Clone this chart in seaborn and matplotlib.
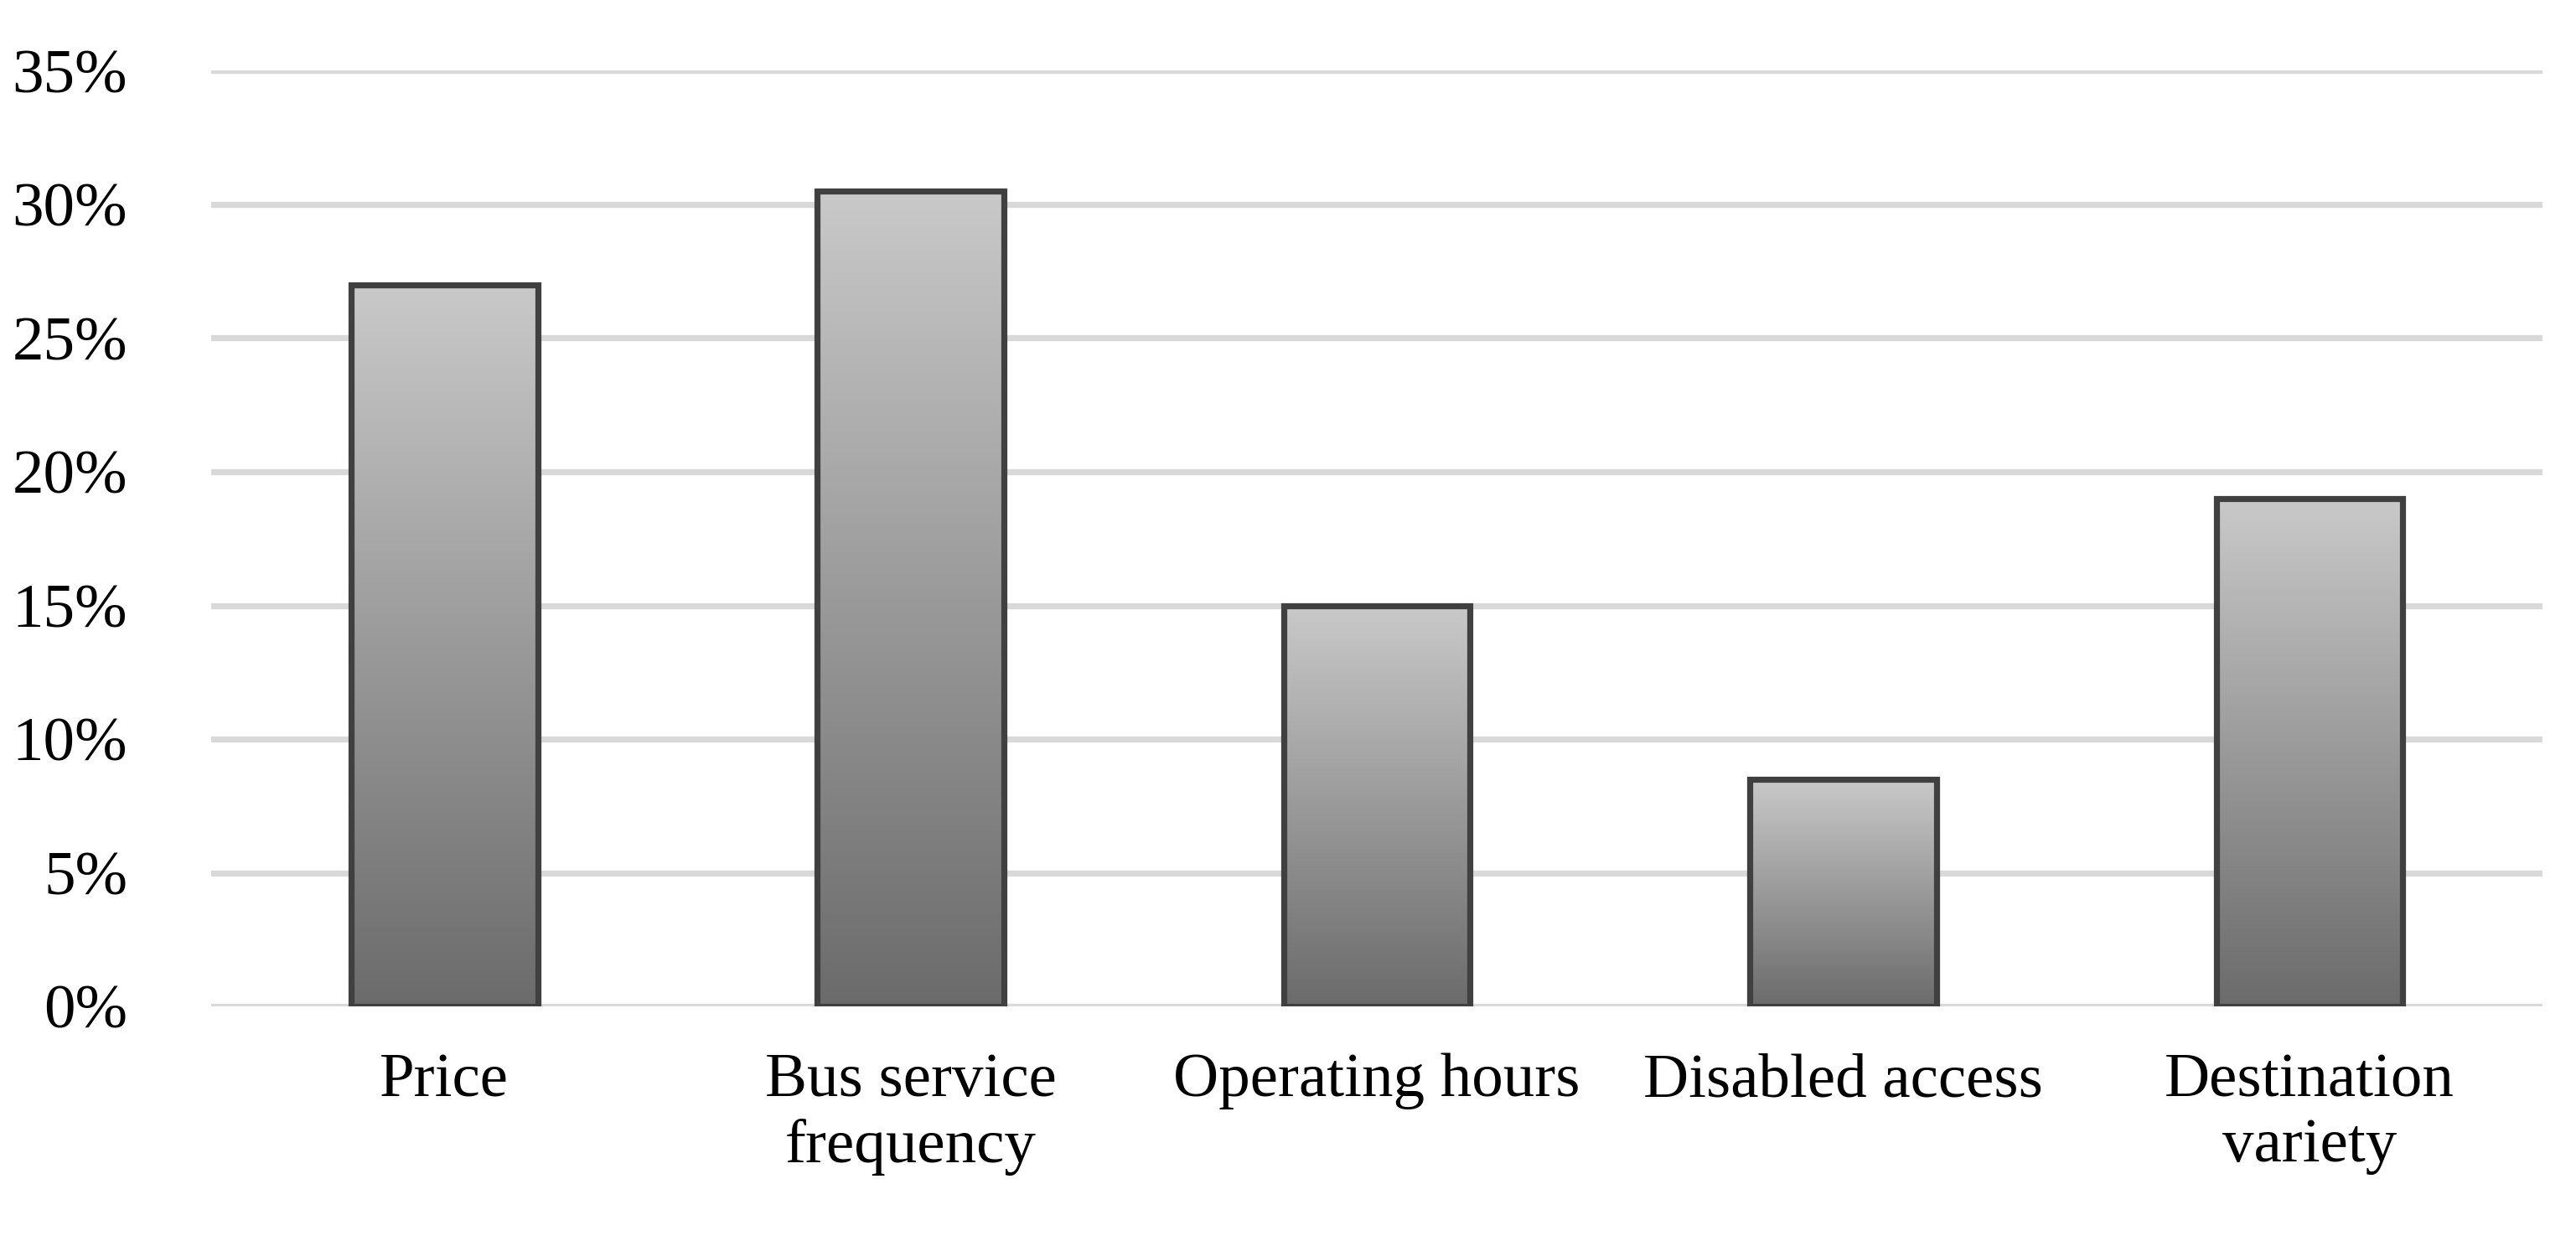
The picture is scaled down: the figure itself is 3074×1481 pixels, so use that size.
import numpy as np
import pandas as pd
import matplotlib
matplotlib.use("Agg")
import matplotlib.pyplot as plt
import seaborn as sns
from matplotlib.colors import LinearSegmentedColormap
from matplotlib.ticker import PercentFormatter

categories = ["Price", "Bus service\nfrequency", "Operating hours", "Disabled access", "Destination\nvariety"]
shares = [27.0, 30.5, 15.0, 8.5, 19.0]
y_ticks = [0, 5, 10, 15, 20, 25, 30, 35]

sns.set_style("white")
plt.rcParams['font.family'] = ['Liberation Serif', 'DejaVu Serif']

df = pd.DataFrame({"factor": categories, "share": shares})

fig = plt.figure(figsize=(15.37, 7.405), dpi=200)
ax = fig.add_axes([0.082, 0.189, 0.905, 0.754])

sns.barplot(data=df, x="factor", y="share", ax=ax, width=0.4,
            color="white", edgecolor="#404040", linewidth=2.6, zorder=3)

# gradient fill inside each bar, light at top and dark at bottom
grad = LinearSegmentedColormap.from_list("g", ["#6b6b6b", "#c9c9c9"])
for bar in ax.patches:
    bar.set_facecolor("none")
    x0, w, h = bar.get_x(), bar.get_width(), bar.get_height()
    ax.imshow(np.linspace(0, 1, 256).reshape(-1, 1), cmap=grad, origin="lower",
              extent=[x0, x0 + w, 0, h], aspect="auto", zorder=2)

ax.set_xlim(-0.5, len(categories) - 0.5)
ax.set_ylim(0, 35)
ax.set_yticks(y_ticks)
ax.yaxis.set_major_formatter(PercentFormatter(decimals=0))
ax.grid(axis="y", color="#d9d9d9", linewidth=2.6, zorder=0)
ax.set_axisbelow(True)
for s in ax.spines.values():
    s.set_visible(False)
ax.tick_params(axis="both", length=0, labelsize=27, colors="black")
ax.tick_params(axis="y", pad=36)
ax.tick_params(axis="x", pad=20)
ax.set_xlabel("")
ax.set_ylabel("")

fig.savefig("out.png", dpi=200, facecolor="white")
